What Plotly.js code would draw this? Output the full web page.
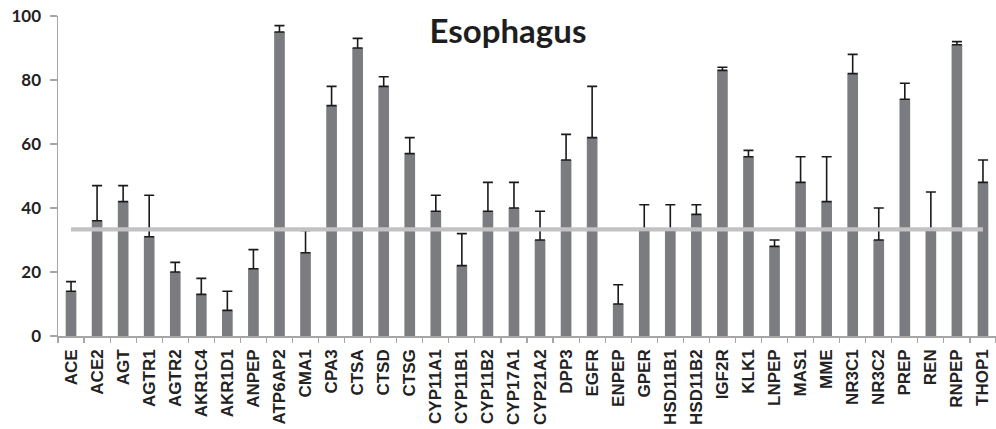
<!DOCTYPE html>
<html>
<head>
<meta charset="utf-8">
<script src="https://cdn.plot.ly/plotly-3.0.1.min.js"></script>
<style>
html,body{margin:0;padding:0;background:#fff;}
#chart{width:996px;height:429px;}
</style>
</head>
<body>
<div id="chart"></div>
<script>
const genes = ["ACE","ACE2","AGT","AGTR1","AGTR2","AKR1C4","AKR1D1","ANPEP","ATP6AP2","CMA1","CPA3","CTSA","CTSD","CTSG","CYP11A1","CYP11B1","CYP11B2","CYP17A1","CYP21A2","DPP3","EGFR","ENPEP","GPER","HSD11B1","HSD11B2","IGF2R","KLK1","LNPEP","MAS1","MME","NR3C1","NR3C2","PREP","REN","RNPEP","THOP1"];
const values = [14,36,42,31,20,13,8,21,95,26,72,90,78,57,39,22,39,40,30,55,62,10,33,33,38,83,56,28,48,42,82,30,74,33,91,48];
const errorTop = [17,47,47,44,23,18,14,27,97,33,78,93,81,62,44,32,48,48,39,63,78,16,41,41,41,84,58,30,56,56,88,40,79,45,92,55];
const threshold = 33.3;
const yTicks = [0,20,40,60,80,100];

const errPlus = values.map((v,i)=>errorTop[i]-v);
const errMinus = values.map(()=>0);

const bars = {
  type:'bar', x:genes, y:values,
  marker:{color:'#7b7c80', line:{width:0}},
  error_y:{type:'data', symmetric:false, array:errPlus, arrayminus:errMinus,
           color:'#1a1a1a', thickness:1.6, width:5},
  hoverinfo:'x+y', showlegend:false
};
const lineEnds = [genes[0], genes[genes.length-1]];
const refLine = {
  type:'scatter', mode:'lines', x:lineEnds, y:lineEnds.map(()=>threshold),
  line:{color:'#c2c2c4', width:4.3},
  error_x:{type:'constant', value:0.15, color:'#1a1a1a', thickness:1.2, width:0},
  showlegend:false, hoverinfo:'skip'
};

const layout = {
  width:996, height:429,
  margin:{l:58, r:0, t:16, b:93},
  paper_bgcolor:'#ffffff', plot_bgcolor:'#ffffff',
  bargap:0.59,
  title:{text:'Esophagus', x:508/996, xanchor:'center', xref:'container',
         y:1-31/429, yanchor:'middle', yref:'container',
         font:{family:'Lato, "Open Sans", sans-serif', size:33, weight:700, color:'#1e1e1e'}},
  xaxis:{type:'category', showline:true, linecolor:'#a6a6a6', linewidth:1.5,
         ticks:'outside', tickson:'boundaries', ticklen:5, tickcolor:'#a6a6a6', tickwidth:1.2,
         tickangle:-90, ticklabelstandoff:5,
         tickfont:{family:'"Liberation Sans", Arial, sans-serif', size:17, weight:700, color:'#222222'},
         showgrid:false, zeroline:false, fixedrange:true},
  yaxis:{range:[0,100], tickvals:yTicks, ticktext:yTicks.map(String),
         showline:true, linecolor:'#a6a6a6', linewidth:1.5,
         ticks:'outside', ticklen:7, tickcolor:'#a6a6a6', tickwidth:1.2,
         ticklabelstandoff:5,
         tickfont:{family:'Lato, "Open Sans", sans-serif', size:17, weight:700, color:'#222222'},
         showgrid:false, zeroline:false, fixedrange:true}
};

Plotly.newPlot('chart',[bars, refLine],layout,{displayModeBar:false, staticPlot:true});
</script>
</body>
</html>
